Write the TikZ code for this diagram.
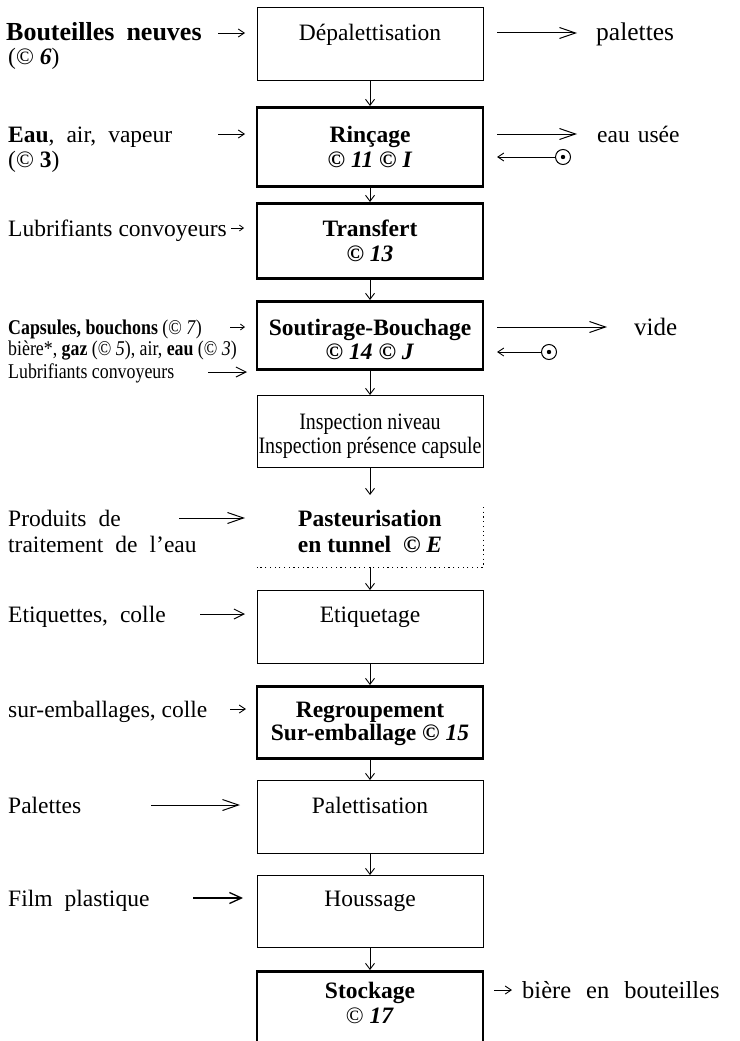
\documentclass[tikz,border=0pt]{standalone}
\usepackage{fontspec}
\setmainfont{Liberation Serif}
\newfontfamily\cond[FakeStretch=0.85]{Liberation Serif}
\usetikzlibrary{arrows.meta}
\newcommand\wspA{\spaceskip=12pt plus 2pt\relax}
\newcommand\wspB{\spaceskip=15pt plus 2pt\relax}
\newcommand\wspC{\spaceskip=8pt plus 2pt\relax}
\begin{document}
\begin{tikzpicture}[x=1pt,y=-1pt,
  box/.style={draw, line width=1pt, minimum width=226pt, inner sep=0pt, anchor=north},
  boxb/.style={box, line width=2.6pt},
  tx/.style={font=\fontsize{23.5}{26}\selectfont, inner sep=0pt, anchor=base},
  txc/.style={font=\cond\fontsize{23.5}{26}\selectfont, inner sep=0pt, anchor=base},
  lab/.style={font=\fontsize{23.5}{26}\selectfont\wspA, inner sep=0pt, anchor=base west},
  labn/.style={font=\fontsize{23.5}{26}\selectfont, inner sep=0pt, anchor=base west},
  labc/.style={font=\cond\fontsize{21}{24}\selectfont, inner sep=0pt, anchor=base west},
  dn/.style={-{Straight Barb[length=6pt,width=9pt]}, line width=0.9pt},
  sa/.style={-{Straight Barb[length=6pt,width=8pt]}, line width=0.9pt},
  ma/.style={-{Straight Barb[length=10pt,width=10pt]}, line width=1pt},
  la/.style={-{Straight Barb[length=16pt,width=11pt]}, line width=1pt},
  odot/.style={circle, draw, line width=1pt, minimum size=15pt, inner sep=0pt},
  dotline/.style={line width=1pt, dash pattern=on 1.2pt off 3.5pt},
]
\useasboundingbox (0,0) rectangle (739,1041);
\clip (0,0) rectangle (739,1041);

% ---- process boxes ----
\node[box, minimum height=73pt] (b1) at (370,7) {};
\node[tx] (t1) at (370,41) {Dépalettisation};

\node[boxb, minimum height=79pt] (b2) at (370,106) {};
\node[tx] (t2a) at (370,142) {\textbf{Rinçage}};
\node[tx] (t2b) at (370,167) {\textbf{© \textit{11} © \textit{I}}};

\node[boxb, minimum height=75pt] (b3) at (370,202) {};
\node[tx] (t3a) at (370,236) {\textbf{Transfert}};
\node[tx] (t3b) at (370,261) {\textbf{© \textit{13}}};

\node[boxb, minimum height=68pt] (b4) at (370,300) {};
\node[tx] (t4a) at (370,335) {\textbf{Soutirage-Bouchage}};
\node[tx] (t4b) at (370,359) {\textbf{© \textit{14} © \textit{J}}};

\node[box, minimum height=72pt] (b5) at (370,395) {};
\node[txc] (t5a) at (370,429) {Inspection niveau};
\node[txc] (t5b) at (370,453) {Inspection présence capsule};

\node[inner sep=0pt, minimum width=226pt, minimum height=72pt, anchor=north] (b6) at (370,495) {};
\draw[dotline] ([yshift=-12pt]b6.north east) -- (b6.south east) -- (b6.south west);
\node[tx] (t6a) at (370,526) {\textbf{Pasteurisation}};
\node[tx] (t6b) at (370,552) {\textbf{en tunnel~ © \textit{E}}};

\node[box, minimum height=73pt] (b7) at (370,590) {};
\node[tx] (t7) at (370,622) {Etiquetage};

\node[boxb, minimum height=72pt] (b8) at (370,685) {};
\node[tx] (t8a) at (370,717) {\textbf{Regroupement}};
\node[tx] (t8b) at (370,740) {\textbf{Sur-emballage © \textit{15}}};

\node[box, minimum height=73pt] (b9) at (370,780) {};
\node[tx] (t9) at (370,813) {Palettisation};

\node[box, minimum height=72pt] (b10) at (370,875) {};
\node[tx] (t10) at (370,906) {Houssage};

\node[boxb, minimum height=100pt] (b11) at (370,970) {};
\node[tx] (t11a) at (370,998) {\textbf{Stockage}};
\node[tx] (t11b) at (370,1023) {© \textbf{\textit{17}}};

% ---- vertical flow ----
\draw[dn] (b1.south) -- (b2.north);
\draw[dn] (b2.south) -- (b3.north);
\draw[dn] (b3.south) -- (b4.north);
\draw[dn] (b4.south) -- (b5.north);
\draw[dn] (b5.south) -- (b6.north);
\draw[dn] (b6.south) -- (b7.north);
\draw[dn] (b7.south) -- (b8.north);
\draw[dn] (b8.south) -- (b9.north);
\draw[dn] (b9.south) -- (b10.north);
\draw[dn] (b10.south) -- (b11.north);

% ---- inputs (left) ----
\node[lab, font=\fontsize{26}{28}\selectfont\wspA] (l1a) at (6,41) {\textbf{Bouteilles neuves}};
\node[labn] (l1b) at (8,65) {(© \textbf{\textit{6}})};
\coordinate (i1s) at (218,33); \coordinate (i1e) at (245,33);
\draw[sa] (i1s) -- (i1e);

\node[lab] (l2a) at (8,142) {\textbf{Eau}, air, vapeur};
\node[labn] (l2b) at (8,167) {(© \textbf{3})};
\coordinate (i2s) at (218,134); \coordinate (i2e) at (245,134);
\draw[sa] (i2s) -- (i2e);

\node[labn] (l3) at (8,236) {Lubrifiants convoyeurs};
\coordinate (i3s) at (231,228); \coordinate (i3e) at (244,228);
\draw[-{Straight Barb[length=4pt,width=6pt]}, line width=0.8pt] (i3s) -- (i3e);

\node[labc] (l4a) at (8,334) {\textbf{Capsules, bouchons} (© \textit{7})};
\node[labc] (l4b) at (8,355) {bière*, \textbf{gaz} (© \textit{5}), air, \textbf{eau} (© \textit{3})};
\node[labc] (l4c) at (8,378) {Lubrifiants convoyeurs};
\coordinate (i4s) at (230,327); \coordinate (i4e) at (245,327);
\draw[-{Straight Barb[length=4pt,width=6pt]}, line width=0.8pt] (i4s) -- (i4e);
\coordinate (i5s) at (208,372); \coordinate (i5e) at (247,372);
\draw[ma] (i5s) -- (i5e);

\node[lab] (l6a) at (8,526) {Produits de};
\node[lab] (l6b) at (8,552) {traitement de l'eau};
\coordinate (i6s) at (179,518); \coordinate (i6e) at (245,518);
\draw[la] (i6s) -- (i6e);

\node[lab] (l7) at (8,622) {Etiquettes, colle};
\coordinate (i7s) at (200,614); \coordinate (i7e) at (245,614);
\draw[ma] (i7s) -- (i7e);

\node[labn] (l8) at (8,717) {sur-emballages, colle};
\coordinate (i8s) at (230,709); \coordinate (i8e) at (246,709);
\draw[sa] (i8s) -- (i8e);

\node[lab] (l9) at (8,813) {Palettes};
\coordinate (i9s) at (151,805); \coordinate (i9e) at (240,805);
\draw[la] (i9s) -- (i9e);

\node[lab] (l10) at (8,906) {Film plastique};
\coordinate (i10s) at (193,898); \coordinate (i10e) at (243,898);
\draw[-{Straight Barb[length=12pt,width=11pt]}, line width=1.3pt] (i10s) -- (i10e);

% ---- outputs (right) ----
\node[labn, font=\fontsize{25.5}{28}\selectfont] (r1) at (596,41) {palettes};
\coordinate (o1s) at (497,33); \coordinate (o1e) at (577,33);
\draw[la] (o1s) -- (o1e);

\node[labn, font=\fontsize{23.5}{26}\selectfont\wspC] (r2) at (597,142) {eau usée};
\coordinate (o2s) at (497,134); \coordinate (o2e) at (577,134);
\draw[la] (o2s) -- (o2e);
\node[odot] (c2) at (563,157) {};
\fill (c2.center) circle (2.2pt);
\coordinate (c2e) at (497,157);
\draw[sa] (c2.west) -- (c2e);

\node[labn, font=\fontsize{25}{28}\selectfont] (r4) at (634,335) {vide};
\coordinate (o4s) at (497,327); \coordinate (o4e) at (607,327);
\draw[la] (o4s) -- (o4e);
\node[odot] (c4) at (549,352) {};
\fill (c4.center) circle (2.2pt);
\coordinate (c4e) at (497,352);
\draw[sa] (c4.west) -- (c4e);

\node[labn, font=\fontsize{24.5}{28}\selectfont\wspB] (r11) at (522,998) {bière en bouteilles};
\coordinate (o11s) at (494,990); \coordinate (o11e) at (512,990);
\draw[sa] (o11s) -- (o11e);
\end{tikzpicture}
\end{document}
